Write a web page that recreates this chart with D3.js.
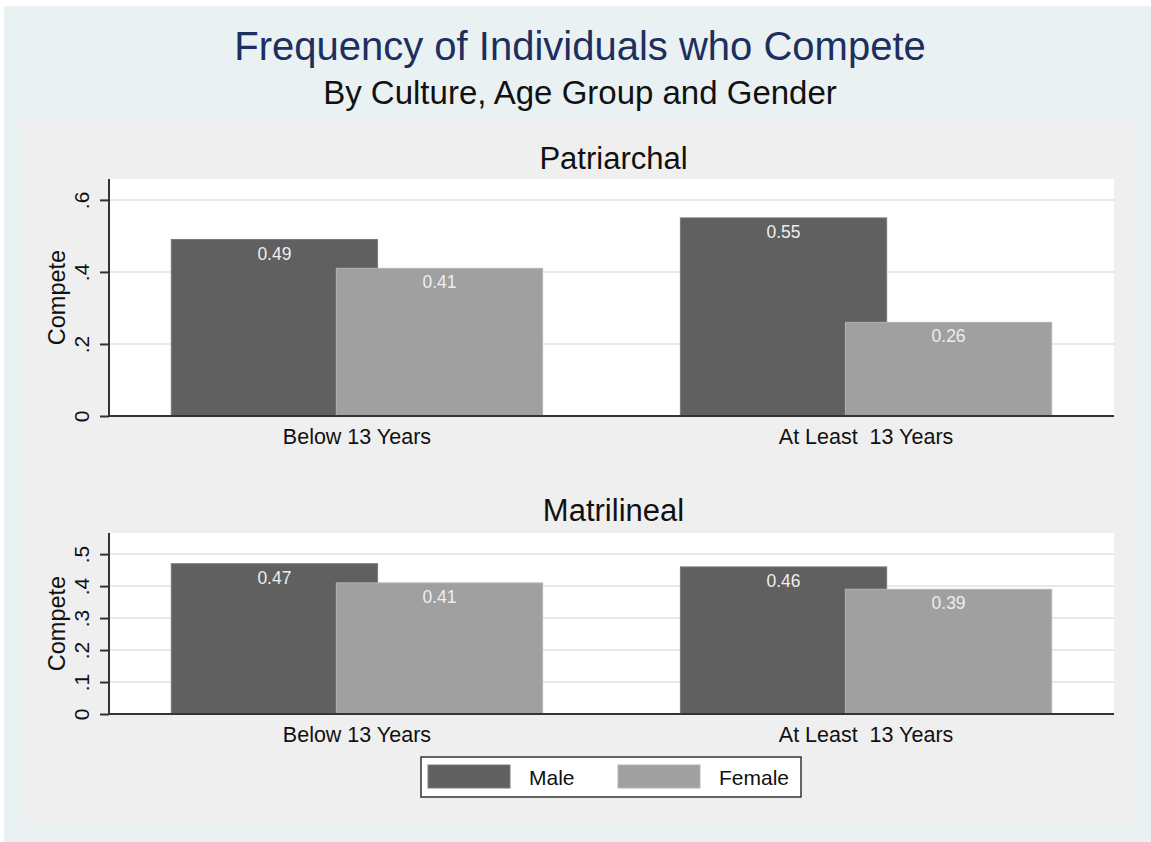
<!DOCTYPE html>
<html>
<head>
<meta charset="utf-8">
<script src="https://cdn.jsdelivr.net/npm/d3@7"></script>
<style>
  body { margin: 0; background: #fff; }
  svg text { font-family: "Liberation Sans", Arial, sans-serif; }
</style>
</head>
<body>
<script>
// data
const cultures = ["Patriarchal", "Matrilineal"];
const ageGroups = ["Below 13 Years", "At Least  13 Years"];
const genders = ["Male", "Female"];
const patriarchalMale = [0.49, 0.55];
const patriarchalFemale = [0.41, 0.26];
const matrilinealMale = [0.47, 0.46];
const matrilinealFemale = [0.41, 0.39];
const patriarchalTicks = [0, 0.2, 0.4, 0.6];
const matrilinealTicks = [0, 0.1, 0.2, 0.3, 0.4, 0.5];

const colors = {Male: "#606060", Female: "#a0a0a0"};
const strokes = {Male: "#7a7a7a", Female: "#b4b4b4"};

const W = 1151, H = 842;
const svg = d3.select("body").append("svg")
  .attr("width", W).attr("height", H);

// backgrounds
svg.append("rect").attr("x", 4).attr("y", 6).attr("width", W - 4).attr("height", H - 6)
  .attr("fill", "#e9f1f3");
svg.append("rect").attr("x", 22).attr("y", 119).attr("width", 1135 - 22).attr("height", 826 - 119)
  .attr("fill", "#efefef");

// titles
svg.append("text").attr("x", 580).attr("y", 60).attr("text-anchor", "middle")
  .attr("font-size", 40).attr("fill", "#1d2f5e")
  .text("Frequency of Individuals who Compete");
svg.append("text").attr("x", 580).attr("y", 104).attr("text-anchor", "middle")
  .attr("font-size", 33).attr("fill", "#111")
  .text("By Culture, Age Group and Gender");

const tickFmt = d => d === 0 ? "0" : d3.format(".1f")(d).replace(/^0/, "");

const panels = [
  {name: cultures[0], male: patriarchalMale, female: patriarchalFemale,
   ticks: patriarchalTicks, top: 179, bottom: 416, ymax: 0.658, titleY: 169},
  {name: cultures[1], male: matrilinealMale, female: matrilinealFemale,
   ticks: matrilinealTicks, top: 533, bottom: 714, ymax: 0.566, titleY: 521}
];

const left = 109, right = 1114;

const x0 = d3.scaleBand().domain(ageGroups).range([left, right])
  .paddingInner(0.27).paddingOuter(0.122);
const x1 = d3.scalePoint().domain(genders).range([0, x0.bandwidth()]).padding(0.626);
const barW = x1.step() * 1.25;

panels.forEach(p => {
  const g = svg.append("g");
  const y = d3.scaleLinear().domain([0, p.ymax]).range([p.bottom, p.top]);

  g.append("rect").attr("x", left).attr("y", p.top)
    .attr("width", right - left).attr("height", p.bottom - p.top)
    .attr("fill", "#fff");

  // grid
  g.selectAll(".grid").data(p.ticks.filter(t => t > 0)).enter().append("line")
    .attr("x1", left).attr("x2", right)
    .attr("y1", d => y(d)).attr("y2", d => y(d))
    .attr("stroke", "#e8e8e8").attr("stroke-width", 2);

  g.append("text").attr("x", (left + right) / 2 + 2).attr("y", p.titleY)
    .attr("text-anchor", "middle").attr("font-size", 31).attr("fill", "#111")
    .text(p.name);

  // bars
  const rows = [];
  ageGroups.forEach((a, i) => {
    rows.push({age: a, gender: "Male", v: p.male[i]});
    rows.push({age: a, gender: "Female", v: p.female[i]});
  });
  const bars = g.selectAll(".bar").data(rows).enter().append("g");
  bars.append("rect")
    .attr("x", d => x0(d.age) + x1(d.gender) - barW / 2)
    .attr("y", d => y(d.v))
    .attr("width", barW)
    .attr("height", d => p.bottom - y(d.v))
    .attr("fill", d => colors[d.gender])
    .attr("stroke", d => strokes[d.gender]).attr("stroke-width", 1);
  bars.append("text")
    .attr("x", d => x0(d.age) + x1(d.gender))
    .attr("y", d => y(d.v) + 20)
    .attr("text-anchor", "middle").attr("font-size", 17.5).attr("fill", "#eeeeee")
    .text(d => d3.format(".2f")(d.v));

  // y axis
  const yAxis = d3.axisLeft(y).tickValues(p.ticks).tickFormat(tickFmt)
    .tickSize(9).tickPadding(0);
  const ya = g.append("g").attr("transform", `translate(${left},0)`).call(yAxis);
  ya.select(".domain").attr("stroke", "#333").attr("stroke-width", 2)
    .attr("d", `M0,${p.top}V${p.bottom}`);
  ya.selectAll(".tick line").attr("stroke", "#333").attr("stroke-width", 2);
  ya.selectAll(".tick text")
    .attr("x", null).attr("dy", null)
    .attr("transform", "translate(-20,0) rotate(-90)")
    .attr("text-anchor", "middle")
    .attr("font-size", 21).attr("fill", "#111");

  g.append("text")
    .attr("transform", `translate(65,${(p.top + p.bottom) / 2}) rotate(-90)`)
    .attr("text-anchor", "middle").attr("font-size", 23.5).attr("fill", "#111")
    .text("Compete");

  // x axis
  const xAxis = d3.axisBottom(x0).tickSize(0).tickPadding(0);
  const xa = g.append("g").attr("transform", `translate(0,${p.bottom})`).call(xAxis);
  xa.select(".domain").attr("stroke", "#333").attr("stroke-width", 2)
    .attr("d", `M${left},0H${right}`);
  xa.selectAll(".tick text").attr("y", 28).attr("dy", null)
    .attr("font-size", 21.5).attr("fill", "#111")
    .style("white-space", "pre");
});

// legend
const lg = svg.append("g");
lg.append("rect").attr("x", 421).attr("y", 757).attr("width", 380).attr("height", 40)
  .attr("fill", "#fff").attr("stroke", "#333").attr("stroke-width", 1.5);
const legX = d3.scalePoint().domain(genders).range([428, 618]);
const li = lg.selectAll(".item").data(genders).enter().append("g");
li.append("rect").attr("x", d => legX(d)).attr("y", 765)
  .attr("width", 82).attr("height", 23)
  .attr("fill", d => colors[d]).attr("stroke", d => strokes[d]);
li.append("text").attr("x", d => legX(d) + 101).attr("y", 785)
  .attr("font-size", 21).attr("fill", "#111").text(d => d);
</script>
</body>
</html>
